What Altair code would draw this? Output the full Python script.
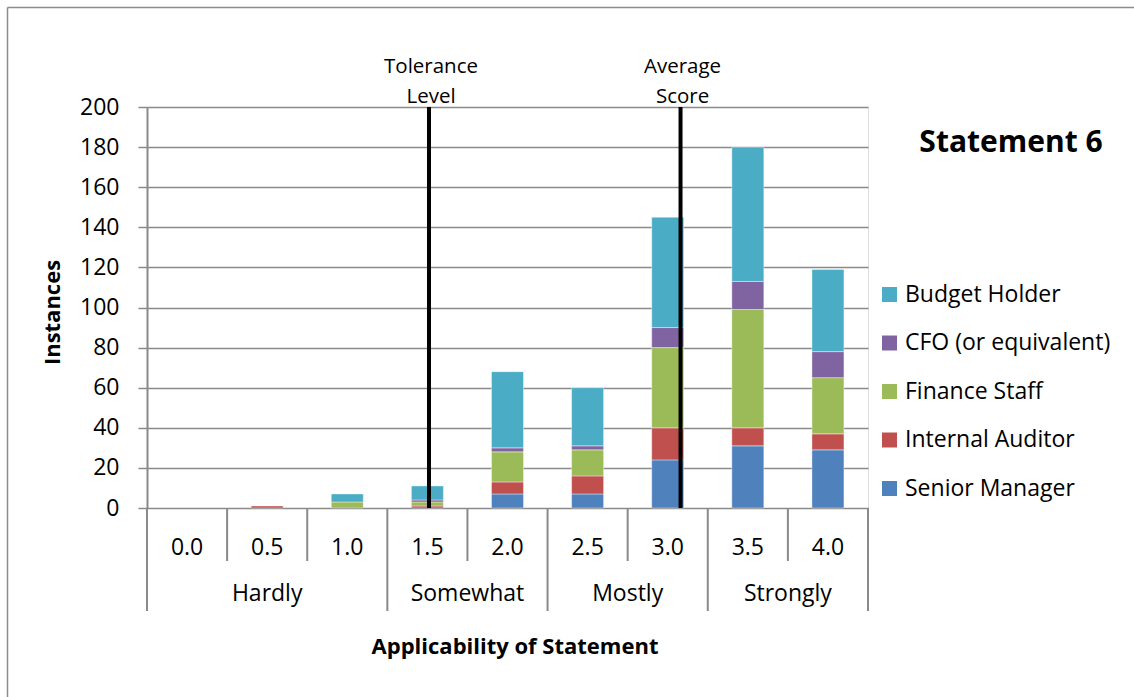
import altair as alt
import pandas as pd

# Response bins and the verbal band each bin belongs to
bins = [0.0, 0.5, 1.0, 1.5, 2.0, 2.5, 3.0, 3.5, 4.0]
groups = ["Hardly", "Hardly", "Hardly", "Somewhat", "Somewhat",
          "Mostly", "Mostly", "Strongly", "Strongly"]

# Instances per respondent role
senior_manager = [0, 0, 0, 0, 7, 7, 24, 31, 29]
internal_auditor = [0, 1, 0, 1, 6, 9, 16, 9, 8]
finance_staff = [0, 0, 3, 2, 15, 13, 40, 59, 28]
cfo = [0, 0, 0, 1, 2, 2, 10, 14, 13]
budget_holder = [0, 0, 4, 7, 38, 29, 55, 67, 41]

roles = ["Senior Manager", "Internal Auditor", "Finance Staff",
         "CFO (or equivalent)", "Budget Holder"]
role_colors = ["#4F81BD", "#C0504D", "#9BBB59", "#8064A2", "#4BACC6"]
series = [senior_manager, internal_auditor, finance_staff, cfo, budget_holder]

# Reference lines
marker_labels = ["Tolerance\nLevel", "Average\nScore"]
marker_values = [1.51, 3.08]

y_ticks = list(range(0, 201, 20))
statement_title = "Statement 6"
x_title = "Applicability of Statement"
y_title = "Instances"

FONT = "Open Sans"
GRID = "#8a8a8a"
W, H = 721, 401

# ---- tables -------------------------------------------------------------
rows = []
for k, (role, vals) in enumerate(zip(roles, series)):
    for b, v in zip(bins, vals):
        if v > 0:
            rows.append({"bin": b, "role": role, "count": v, "stack": k})
bars_df = pd.DataFrame(rows)

cats_df = pd.DataFrame({"bin": bins, "group": groups,
                        "label": [f"{b:.1f}" for b in bins]})

half = (bins[1] - bins[0]) / 2
edge_rows = []
for i, b in enumerate(bins):
    long_edge = i == 0 or groups[i] != groups[i - 1]
    edge_rows.append({"edge": b - half, "long": long_edge})
edge_rows.append({"edge": bins[-1] + half, "long": True})
edges_df = pd.DataFrame(edge_rows)

markers_df = pd.DataFrame({"value": marker_values, "label": marker_labels})
one = pd.DataFrame({"k": [0]})

x_scale = alt.Scale(domain=[bins[0] - half, bins[-1] + half],
                    nice=False, zero=False, padding=0)
x_enc = lambda f: alt.X(f, type="quantitative", scale=x_scale, axis=None)

legend_order = roles[::-1]
legend_colors = role_colors[::-1]

# ---- layers -------------------------------------------------------------
bars = alt.Chart(bars_df).mark_bar(
    size=32, stroke="white", strokeWidth=0.8, strokeOpacity=0.5
).encode(
    x=x_enc("bin"),
    y=alt.Y("count:Q", stack="zero",
            scale=alt.Scale(domain=[0, 200], nice=False),
            axis=alt.Axis(values=y_ticks, title=y_title, grid=True,
                          gridColor=GRID, gridWidth=1.5,
                          domainColor=GRID, domainWidth=2,
                          tickColor=GRID, tickWidth=1.5, tickSize=9,
                          labelFont=FONT, labelFontSize=23, labelColor="black",
                          labelPadding=19,
                          titleFont=FONT, titleFontSize=22, titleFontWeight="bold",
                          titleColor="black", titleAngle=270, titleAlign="center",
                          titleBaseline="middle", titleX=-95, titleY=205)),
    color=alt.Color("role:N",
                    scale=alt.Scale(domain=legend_order, range=legend_colors),
                    legend=alt.Legend(title=None, orient="none",
                                      legendX=731, legendY=176,
                                      symbolType="square", symbolSize=225,
                                      symbolStrokeWidth=0, labelFont=FONT,
                                      labelFontSize=23, labelColor="black",
                                      labelLimit=0,
                                      labelOffset=4, rowPadding=24.5, padding=0)),
    order=alt.Order("stack:Q"),
)

short_edges = alt.Chart(edges_df).transform_filter("!datum.long").mark_rule(
    color=GRID, strokeWidth=2
).encode(x=x_enc("edge"), y=alt.value(H), y2=alt.value(H + 53))

long_edges = alt.Chart(edges_df).transform_filter("datum.long").mark_rule(
    color=GRID, strokeWidth=2
).encode(x=x_enc("edge"), y=alt.value(H), y2=alt.value(H + 103))

cat_labels = alt.Chart(cats_df).mark_text(
    font=FONT, fontSize=23, baseline="middle", color="black"
).encode(x=x_enc("bin"), y=alt.value(H + 40), text="label:N")

group_labels = alt.Chart(cats_df).transform_aggregate(
    center="mean(bin)", groupby=["group"]
).mark_text(
    font=FONT, fontSize=23, baseline="middle", color="black"
).encode(x=x_enc("center"), y=alt.value(H + 86), text="group:N")

marker_rules = alt.Chart(markers_df).mark_rule(color="black", strokeWidth=4).encode(
    x=x_enc("value"), y=alt.value(0), y2=alt.value(H)
)

marker_text = alt.Chart(markers_df).mark_text(
    font=FONT, fontSize=20.5, baseline="middle", lineBreak="\n", lineHeight=30,
    color="black", dx=2
).encode(x=x_enc("value"), y=alt.value(-40), text="label:N")

title_mark = alt.Chart(pd.DataFrame({"t": [statement_title]})).mark_text(
    font=FONT, fontSize=30, fontWeight="bold", baseline="middle", color="black"
).encode(x=alt.value(864), y=alt.value(36), text="t:N")

x_title_mark = alt.Chart(pd.DataFrame({"t": [x_title]})).mark_text(
    font=FONT, fontSize=22, fontWeight="bold", baseline="middle", color="black"
).encode(x=alt.value(368), y=alt.value(540), text="t:N")

# Outer frame (left and top edges of the chart area)
frame_left = alt.Chart(one).mark_rule(color="#8c8c8c", strokeWidth=1.5).encode(
    x=alt.value(-139.5), y=alt.value(-99.5), y2=alt.value(H + 189)
)
frame_top = alt.Chart(one).mark_rule(color="#8c8c8c", strokeWidth=1.5).encode(
    x=alt.value(-139.5), x2=alt.value(W + 266), y=alt.value(-99.5)
)

chart = alt.layer(
    frame_left, frame_top, bars, short_edges, long_edges, cat_labels,
    group_labels, marker_rules, marker_text, title_mark, x_title_mark
).properties(
    width=W, height=H,
    autosize=alt.AutoSizeParams(type="none"),
    padding={"left": 147, "top": 107, "right": 266, "bottom": 189},
).configure_view(stroke=None).configure(background="white")

chart.save("out.html", embed_options={"renderer": "svg", "actions": False})
